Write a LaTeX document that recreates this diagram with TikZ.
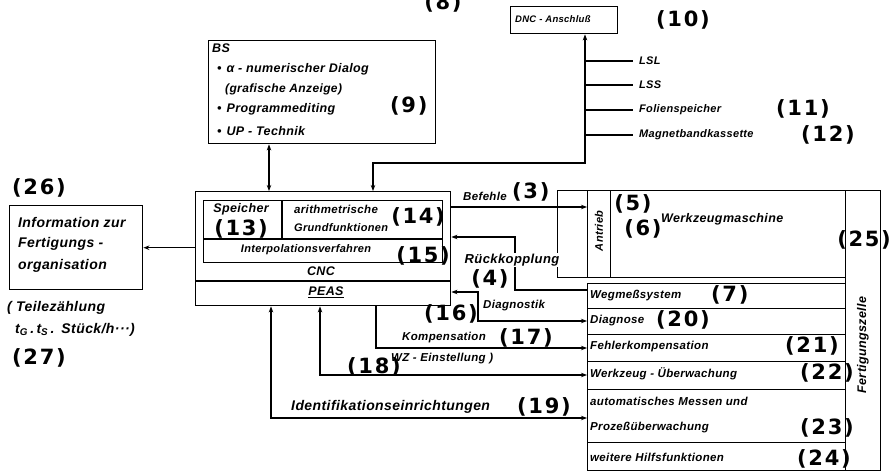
\documentclass[tikz,border=0pt]{standalone}
\usepackage{fontspec}
\setmainfont{Liberation Sans}
\newfontfamily\numfont[LetterSpace=8]{DejaVu Sans}
\newfontfamily\lblfont[LetterSpace=3]{Liberation Sans}
\usetikzlibrary{arrows.meta}
\tikzset{
  ln/.style={line width=1.3pt},
  rbox/.style={draw, line width=1.4pt, inner sep=0pt, anchor=north west},
  lbl/.style={font=\lblfont\bfseries\itshape\fontsize{#1}{#1}\selectfont, inner sep=1pt},
  lbl/.default=11.5,
  bsl/.style={font=\lblfont\bfseries\itshape\fontsize{12.5}{14}\selectfont, inner sep=1pt, anchor=west},
  numl/.style={font=\numfont\bfseries\fontsize{21}{22}\selectfont, inner sep=0pt},
  >={Stealth[length=6pt,width=4.5pt]},
}
\begin{document}
\begin{tikzpicture}[x=1pt,y=-1pt]
\useasboundingbox (0,0) rectangle (892,476);
\fill[white] (0,0) rectangle (892,476);

% partly visible number at the top
\begin{scope}
\clip (0,0) rectangle (892,476);
\node[numl] (n8) at (443,3) {(8)};
\end{scope}

% ---------------- BS box ----------------
\node[rbox, minimum width=227pt, minimum height=103pt] (bs) at (208,40) {};
\node[bsl] (bsT) at (211,48) {BS};
\node[bsl] (b1) at (216,69) {•\hspace{5pt}α - numerischer Dialog};
\node[lbl=12, anchor=west] (b1b) at (224,89) {(grafische Anzeige)};
\node[bsl] (b2) at (216,109) {•\hspace{5pt}Programmediting};
\node[bsl] (b3) at (216,131) {•\hspace{5pt}UP - Technik};
\node[numl, anchor=west] (n9) at (390,106) {(9)};

% ---------------- DNC ----------------
\node[rbox, minimum width=107pt, minimum height=27pt] (dnc) at (510,6) {};
\node[lbl=9.5, anchor=west] (dncT) at (514,19) {DNC - Anschluß};
\node[numl, anchor=west] (n10) at (656,20) {(10)};
\coordinate (xd) at (585,0);
\tikzset{dncl/.style={lbl=11, anchor=west, inner xsep=6pt}}
\node[dncl] (lsl) at (633,61) {LSL};
\node[dncl] (lss) at (633,85) {LSS};
\node[dncl] (fol) at (633,110) {Folienspeicher};
\node[dncl] (mag) at (633,135) {Magnetbandkassette};
\node[numl, anchor=west] (n11) at (776,109) {(11)};
\node[numl, anchor=west] (n12) at (801,135) {(12)};
\foreach \n in {lsl,lss,fol,mag} \draw[ln] (xd |- \n.west) -- (\n.west);

% ---------------- CNC ----------------
\node[rbox, minimum width=255pt, minimum height=114pt] (cnc) at (195,191) {};
\draw[ln] (cnc.west |- 0,281) -- (cnc.east |- 0,281);
\node[rbox, line width=1.2pt, minimum width=239pt, minimum height=62pt] (inner) at (203,200) {};
\draw[ln] (inner.west |- 0,239) -- (inner.east |- 0,239);
\draw[ln] (282,0 |- inner.north) -- (282,239);
\node[lbl=12.5] (spT) at (241,209) {Speicher};
\node[numl] (n13) at (241,229) {(13)};
\node[lbl=11.5, anchor=west] (arT) at (293,209) {arithmetrische};
\node[lbl=11, anchor=west] (grT) at (293,228) {Grundfunktionen};
\node[numl] (n14) at (418,217) {(14)};
\node[lbl=11] (ipT) at (306,250) {Interpolationsverfahren};
\node[numl] (n15) at (423,256) {(15)};
\node[lbl=12.5] (cncT) at (321,271) {CNC};
\node[lbl=12.5] (peT) at (326,292) {\underline{PEAS}};

% ---------------- Info box ----------------
\node[rbox, minimum width=133pt, minimum height=84pt] (info) at (9,205) {};
\node[lbl=14, anchor=west] (i1) at (17,222) {Information zur};
\node[lbl=14, anchor=west] (i2) at (17,244) {Fertigungs -};
\node[lbl=14, anchor=west] (i3) at (17,266) {organisation};
\node[numl, anchor=west] (n26) at (12,188) {(26)};
\node[lbl=14, anchor=west] (t1) at (6,308) {( Teilezählung};
\node[lbl=14, anchor=west] (t2) at (14,330) {t\textsubscript{G}\,.\,t\textsubscript{S}\,.\enspace Stück/h···)};
\node[numl, anchor=west] (n27) at (12,358) {(27)};
\draw[ln,->] (cnc.west |- info.east) -- (info.east);

% ---------------- machine / cell ----------------
\node[rbox, minimum width=288pt, minimum height=87pt] (mach) at (557,190) {};
\node[rbox, minimum width=23pt, minimum height=87pt] (antr) at (587,190) {};
\node[lbl=11, rotate=90] (antrT) at (599,231) {Antrieb};
\node[rbox, minimum width=35pt, minimum height=280pt] (fz) at (845,190) {};
\node[lbl=12.5, rotate=90] (fzT) at (863,345) {Fertigungszelle};
\node[numl] (n25) at (864,240) {(25)};
\node[numl] (n5) at (633,204) {(5)};
\node[numl] (n6) at (643,229) {(6)};
\node[lbl=12.5, anchor=west] (wmT) at (660,219) {Werkzeugmaschine};

\node[rbox, minimum width=258pt, minimum height=25pt] (weg) at (587,283) {};
\node[rbox, minimum width=258pt, minimum height=26pt] (diag) at (587,308) {};
\node[rbox, minimum width=258pt, minimum height=27pt] (fehl) at (587,334) {};
\node[rbox, minimum width=258pt, minimum height=28pt] (wz) at (587,361) {};
\node[rbox, minimum width=258pt, minimum height=53pt] (auto) at (587,389) {};
\node[rbox, minimum width=258pt, minimum height=28pt] (weit) at (587,442) {};

\node[lbl, anchor=west] (wegT) at (589,296) {Wegmeßsystem};
\node[numl, anchor=west] (n7) at (711,295) {(7)};
\node[lbl, anchor=west] (diagT) at (589,321) {Diagnose};
\node[numl, anchor=west] (n20) at (656,320) {(20)};
\node[lbl, anchor=west] (fehlT) at (589,347) {Fehlerkompensation};
\node[numl, anchor=west] (n21) at (785,346) {(21)};
\node[lbl, anchor=west] (wzT) at (589,374) {Werkzeug - Überwachung};
\node[numl, anchor=west] (n22) at (800,373) {(22)};
\node[lbl, anchor=west] (a1) at (589,401) {automatisches Messen und};
\node[lbl, anchor=west] (a2) at (589,428) {Prozeßüberwachung};
\node[numl, anchor=west] (n23) at (800,428) {(23)};
\node[lbl, anchor=west] (weitT) at (589,457) {weitere Hilfsfunktionen};
\node[numl, anchor=west] (n24) at (797,459) {(24)};

% ---------------- connections ----------------
\coordinate (xa) at (269,0);
\coordinate (xc) at (373,0);
\coordinate (yh) at (0,163);
\draw[ln,<->] (xa |- bs.south) -- (xa |- cnc.north);
\draw[ln,<->] (xd |- dnc.south) |- (xc |- yh) -- (xc |- cnc.north);

\draw[ln,->] (cnc.east |- 0,207) -- (antr.west |- 0,207);
\draw[ln,->] (weg.west |- 0,290) -| (515,237) -- (cnc.east |- 0,237);
\draw[ln,<->] (cnc.east |- 0,292) -| (478,321) -- (diag.west |- 0,321);
\draw[ln,->] (376,0 |- cnc.south) |- (fehl.west |- 0,348);
\draw[ln,<->] (320,0 |- cnc.south) |- (wz.west |- 0,375);
\draw[ln,<->] (271,0 |- cnc.south) |- (auto.west |- 0,418);

% ---------------- connector labels ----------------
\node[lbl, anchor=west] (befT) at (462,196) {Befehle};
\node[numl, anchor=west] (n3) at (512,192) {(3)};
\node[lbl=13, fill=white, inner sep=1pt] (rkT) at (512,260) {Rückkopplung};
\node[numl] (n4) at (490,279) {(4)};
\node[lbl=11.5, anchor=west] (dgT) at (482,306) {Diagnostik};
\node[numl, anchor=west] (n16) at (424,314) {(16)};
\node[lbl, anchor=west] (kpT) at (401,338) {Kompensation};
\node[numl, anchor=west] (n17) at (499,338) {(17)};
\node[numl, anchor=west] (n18) at (347,367) {(18)};
\node[lbl=11.5, anchor=west] (wzeT) at (390,359) {WZ - Einstellung )};
\node[lbl=14, anchor=west] (idT) at (290,407) {Identifikationseinrichtungen};
\node[numl, anchor=west] (n19) at (517,407) {(19)};
\end{tikzpicture}
\end{document}
